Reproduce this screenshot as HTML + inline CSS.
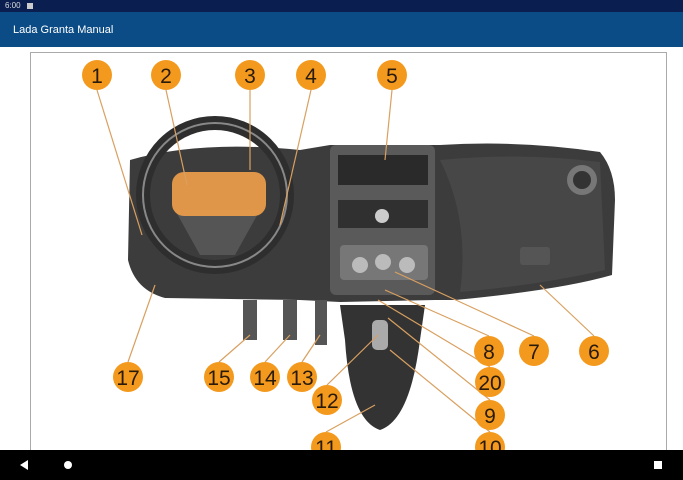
<!DOCTYPE html>
<html><head><style>
body{margin:0;width:683px;height:480px;overflow:hidden;background:#fff;font-family:"Liberation Sans",sans-serif;position:relative}
.sb{position:absolute;left:0;top:0;width:683px;height:12px;background:#0a1e50;color:#ddd;font-size:8px;line-height:12px}
.ab{position:absolute;left:0;top:12px;width:683px;height:35px;background:#0b4c86;color:#fff;font-size:11px;line-height:36px}
.nb{position:absolute;left:0;top:450px;width:683px;height:30px;background:#000}
</style></head><body>
<div class="sb"><span style="margin-left:5px">6:00</span><span style="display:inline-block;width:6px;height:6px;background:#ccc;margin-left:6px;vertical-align:-1px"></span></div>
<div class="ab"><span style="margin-left:13px">Lada Granta Manual</span></div>
<svg style="position:absolute;left:0;top:47px" width="683" height="403" viewBox="0 47 683 403">
<rect x="30.5" y="52.5" width="636" height="420" fill="#fff" stroke="#aaa"/>
<!-- dashboard -->
<path d="M130 160 Q200 140 300 150 L330 145 L440 145 Q520 140 600 152 Q615 170 615 200 L612 275 Q560 290 455 300 L435 300 L340 302 L300 300 L165 298 Q135 290 128 260 Z" fill="#3c3c3c"/>
<path d="M440 160 Q520 152 600 162 L605 270 Q540 285 460 292 Q470 220 440 160Z" fill="#474747"/>
<rect x="330" y="145" width="105" height="150" rx="6" fill="#5a5a5a"/>
<rect x="338" y="155" width="90" height="30" fill="#2a2a2a"/>
<rect x="338" y="200" width="90" height="28" fill="#303030"/>
<rect x="340" y="245" width="88" height="35" rx="4" fill="#777"/>
<circle cx="360" cy="265" r="8" fill="#bbb"/><circle cx="383" cy="262" r="8" fill="#bbb"/><circle cx="407" cy="265" r="8" fill="#bbb"/>
<circle cx="382" cy="216" r="7" fill="#ccc"/>
<circle cx="582" cy="180" r="15" fill="#777"/><circle cx="582" cy="180" r="9" fill="#333"/>
<rect x="520" y="247" width="30" height="18" rx="3" fill="#555"/>
<!-- steering -->
<circle cx="215" cy="195" r="72" fill="none" stroke="#2e2e2e" stroke-width="14"/>
<circle cx="215" cy="195" r="72" fill="none" stroke="#888" stroke-width="2"/>
<path d="M175 210 L200 255 L235 255 L260 210Z" fill="#555"/>
<rect x="172" y="172" width="94" height="44" rx="12" fill="#f2a04a" opacity=".9"/>
<!-- pedals -->
<rect x="243" y="300" width="14" height="40" fill="#555"/><rect x="283" y="300" width="14" height="40" fill="#555"/><rect x="315" y="300" width="12" height="45" fill="#555"/>
<!-- console -->
<path d="M340 305 L425 305 L420 340 Q410 420 380 430 Q350 420 345 340Z" fill="#333"/>
<rect x="372" y="320" width="16" height="30" rx="5" fill="#aaa"/>
<g stroke="#d9a060" stroke-width="1.2">
<line x1="97" y1="90" x2="142" y2="235"/><line x1="166" y1="90" x2="187" y2="185"/><line x1="250" y1="90" x2="250" y2="170"/><line x1="311" y1="90" x2="280" y2="225"/><line x1="392" y1="90" x2="385" y2="160"/>
<line x1="594" y1="336" x2="540" y2="285"/><line x1="534" y1="336" x2="395" y2="272"/><line x1="489" y1="336" x2="385" y2="290"/><line x1="490" y1="367" x2="378" y2="300"/><line x1="490" y1="400" x2="388" y2="318"/><line x1="490" y1="432" x2="390" y2="350"/>
<line x1="326" y1="432" x2="375" y2="405"/><line x1="327" y1="385" x2="378" y2="335"/><line x1="302" y1="362" x2="320" y2="335"/><line x1="265" y1="362" x2="290" y2="335"/><line x1="219" y1="362" x2="250" y2="335"/><line x1="128" y1="362" x2="155" y2="285"/>
</g>
<g fill="#f39a1e"><circle cx="97" cy="75" r="15"/><circle cx="166" cy="75" r="15"/><circle cx="250" cy="75" r="15"/><circle cx="311" cy="75" r="15"/><circle cx="392" cy="75" r="15"/><circle cx="594" cy="351" r="15"/><circle cx="534" cy="351" r="15"/><circle cx="489" cy="351" r="15"/><circle cx="490" cy="382" r="15"/><circle cx="490" cy="415" r="15"/><circle cx="490" cy="447" r="15"/><circle cx="326" cy="447" r="15"/><circle cx="327" cy="400" r="15"/><circle cx="302" cy="377" r="15"/><circle cx="265" cy="377" r="15"/><circle cx="219" cy="377" r="15"/><circle cx="128" cy="377" r="15"/></g>
<g fill="#2a1a0a" font-size="21" text-anchor="middle" font-family="Liberation Sans,sans-serif">
<text x="97" y="83">1</text><text x="166" y="83">2</text><text x="250" y="83">3</text><text x="311" y="83">4</text><text x="392" y="83">5</text><text x="594" y="359">6</text><text x="534" y="359">7</text><text x="489" y="359">8</text><text x="490" y="390">20</text><text x="490" y="423">9</text><text x="490" y="455">10</text><text x="326" y="455">11</text><text x="327" y="408">12</text><text x="302" y="385">13</text><text x="265" y="385">14</text><text x="219" y="385">15</text><text x="128" y="385">17</text></g>
</svg>
<div class="nb">
<div style="position:absolute;left:20px;top:10px;width:0;height:0;border-top:5px solid transparent;border-bottom:5px solid transparent;border-right:8px solid #fff"></div>
<div style="position:absolute;left:64px;top:11px;width:8px;height:8px;border-radius:50%;background:#fff"></div>
<div style="position:absolute;left:654px;top:11px;width:8px;height:8px;background:#fff"></div>
</div>
</body></html>
